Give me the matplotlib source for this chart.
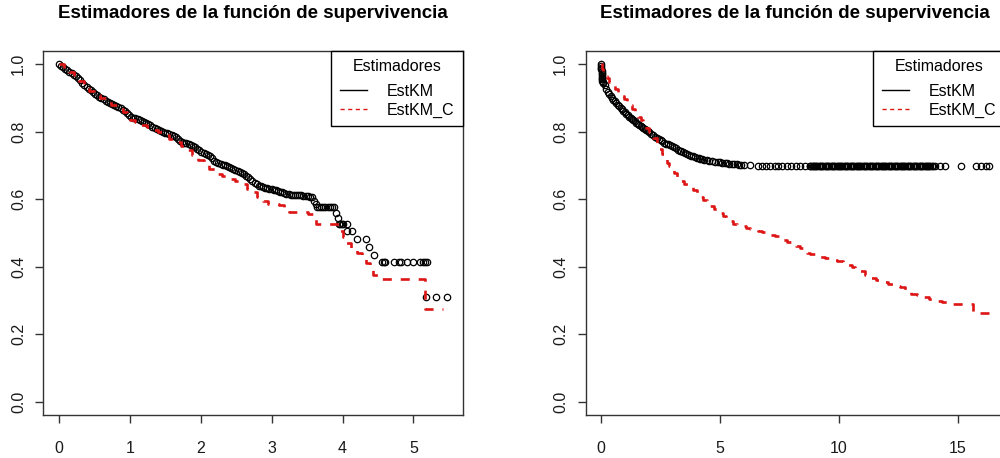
import matplotlib
matplotlib.use("Agg")
import matplotlib.pyplot as plt
from matplotlib.lines import Line2D

plt.rcParams["font.family"] = ["Liberation Sans", "DejaVu Sans"]

titulo = "Estimadores de la función de supervivencia"

# ---- Panel izquierdo: estimador KM (puntos) y KM_C (escalones) ----
t_km1 = [0.00, 0.03, 0.06, 0.09, 0.12, 0.15, 0.18, 0.21, 0.24, 0.27, 0.30, 0.33,
         0.36, 0.39, 0.42, 0.45, 0.48, 0.51, 0.54, 0.57, 0.60, 0.63, 0.66, 0.69,
         0.72, 0.75, 0.78, 0.81, 0.84, 0.87, 0.90, 0.93, 0.96, 0.99, 1.02, 1.05,
         1.08, 1.11, 1.14, 1.17, 1.20, 1.23, 1.26, 1.29, 1.32, 1.35, 1.38, 1.41,
         1.44, 1.47, 1.50, 1.53, 1.56, 1.59, 1.62, 1.65, 1.68, 1.71, 1.74, 1.77,
         1.80, 1.83, 1.86, 1.89, 1.92, 1.95, 1.98, 2.01, 2.04, 2.07, 2.10, 2.13,
         2.16, 2.19, 2.22, 2.25, 2.28, 2.31, 2.34, 2.37, 2.40, 2.43, 2.46, 2.49,
         2.52, 2.55, 2.58, 2.61, 2.64, 2.67, 2.70, 2.73, 2.76, 2.79, 2.82, 2.85,
         2.88, 2.91, 2.94, 2.97, 3.00, 3.03, 3.06, 3.09, 3.12, 3.15, 3.18, 3.21,
         3.24, 3.27, 3.30, 3.33, 3.36, 3.39, 3.42, 3.45, 3.48, 3.51, 3.54, 3.57,
         3.60, 3.62, 3.64, 3.67, 3.70, 3.73, 3.76, 3.79, 3.82, 3.85, 3.88, 3.91,
         3.93, 3.95, 3.97, 3.99, 4.01, 4.06, 4.07, 4.13, 4.20, 4.33, 4.37, 4.45,
         4.55, 4.58, 4.60, 4.73, 4.80, 4.82, 4.91, 4.99, 5.09, 5.13, 5.16, 5.19,
         5.18, 5.32, 5.48]
s_km1 = [1.000, 0.996, 0.991, 0.987, 0.982, 0.978, 0.974, 0.969, 0.964, 0.958,
         0.952, 0.945, 0.938, 0.933, 0.928, 0.923, 0.918, 0.913, 0.908, 0.904,
         0.900, 0.896, 0.892, 0.888, 0.884, 0.881, 0.878, 0.875, 0.872, 0.869,
         0.865, 0.860, 0.855, 0.850, 0.845, 0.842, 0.840, 0.838, 0.834, 0.831,
         0.828, 0.825, 0.822, 0.819, 0.815, 0.812, 0.809, 0.806, 0.803, 0.800,
         0.797, 0.795, 0.793, 0.790, 0.787, 0.783, 0.777, 0.771, 0.769, 0.768,
         0.767, 0.764, 0.762, 0.758, 0.754, 0.749, 0.745, 0.741, 0.738, 0.734,
         0.730, 0.727, 0.722, 0.714, 0.710, 0.706, 0.703, 0.701, 0.700, 0.698,
         0.696, 0.693, 0.690, 0.687, 0.684, 0.681, 0.678, 0.674, 0.670, 0.665,
         0.660, 0.654, 0.649, 0.644, 0.640, 0.638, 0.636, 0.634, 0.632, 0.631,
         0.630, 0.628, 0.627, 0.625, 0.622, 0.620, 0.618, 0.616, 0.614, 0.613,
         0.613, 0.612, 0.612, 0.611, 0.611, 0.610, 0.610, 0.609, 0.608, 0.606,
         0.594, 0.585, 0.577, 0.577, 0.577, 0.577, 0.577, 0.577, 0.577, 0.577,
         0.577, 0.560, 0.543, 0.526, 0.526, 0.526, 0.526, 0.526, 0.505, 0.505,
         0.482, 0.482, 0.459, 0.436, 0.413, 0.413, 0.413, 0.413, 0.413, 0.413,
         0.413, 0.413, 0.413, 0.413, 0.413, 0.413, 0.310, 0.310, 0.310]

t_kmc1 = [0.00, 0.07, 0.14, 0.21, 0.28, 0.35, 0.42, 0.50, 0.58, 0.66, 0.74, 0.82,
          0.90, 0.96, 1.00, 1.08, 1.16, 1.24, 1.32, 1.40, 1.48, 1.56, 1.64, 1.72,
          1.80, 1.88, 1.96, 2.04, 2.12, 2.20, 2.30, 2.40, 2.48, 2.56, 2.65, 2.72,
          2.79, 2.88, 2.95, 3.10, 3.17, 3.25, 3.52, 3.58, 3.62, 3.90, 3.95, 4.00,
          4.05, 4.12, 4.20, 4.27, 4.33, 4.39, 4.43, 4.51, 5.17, 5.42]
s_kmc1 = [1.000, 0.988, 0.976, 0.963, 0.950, 0.930, 0.922, 0.910, 0.900, 0.890,
          0.879, 0.868, 0.858, 0.845, 0.834, 0.828, 0.820, 0.813, 0.806, 0.798,
          0.790, 0.778, 0.770, 0.758, 0.745, 0.730, 0.716, 0.705, 0.690, 0.676,
          0.668, 0.660, 0.655, 0.645, 0.630, 0.620, 0.607, 0.595, 0.587, 0.582,
          0.572, 0.562, 0.555, 0.540, 0.528, 0.528, 0.505, 0.488, 0.470, 0.455,
          0.440, 0.425, 0.410, 0.390, 0.375, 0.363, 0.274, 0.274]

# ---- Panel derecho ----
t_km2 = [0.000, 0.005, 0.010, 0.015, 0.020, 0.025, 0.030, 0.035, 0.040, 0.050,
         0.060, 0.080, 0.10, 0.16, 0.22, 0.28, 0.34, 0.40, 0.46, 0.52, 0.58, 0.64,
         0.70, 0.76, 0.82, 0.88, 0.94, 1.00, 1.06, 1.12, 1.18, 1.24, 1.30, 1.36,
         1.42, 1.48, 1.54, 1.60, 1.66, 1.72, 1.78, 1.84, 1.90, 1.96, 2.02, 2.10,
         2.18, 2.26, 2.34, 2.42, 2.50, 2.58, 2.66, 2.74, 2.82, 2.90, 2.98, 3.06,
         3.14, 3.22, 3.30, 3.38, 3.46, 3.54, 3.62, 3.70, 3.78, 3.86, 3.94, 4.02,
         4.10, 4.18, 4.26, 4.34, 4.44, 4.55, 4.66, 4.78, 4.90, 5.00, 5.10, 5.20,
         5.30, 5.40, 5.50, 5.60, 5.70, 5.80, 5.90, 6.00, 6.25]
s_km2 = [1.000, 0.995, 0.990, 0.985, 0.980, 0.975, 0.970, 0.965, 0.960, 0.955,
         0.950, 0.947, 0.945, 0.937, 0.926, 0.919, 0.913, 0.905, 0.900, 0.895,
         0.890, 0.885, 0.880, 0.875, 0.870, 0.866, 0.861, 0.857, 0.853, 0.849,
         0.845, 0.841, 0.837, 0.834, 0.831, 0.827, 0.824, 0.821, 0.818, 0.815,
         0.811, 0.808, 0.805, 0.801, 0.798, 0.793, 0.789, 0.785, 0.781, 0.777,
         0.774, 0.771, 0.768, 0.765, 0.763, 0.760, 0.757, 0.754, 0.751, 0.747,
         0.744, 0.742, 0.739, 0.737, 0.734, 0.731, 0.729, 0.727, 0.725, 0.723,
         0.722, 0.720, 0.719, 0.717, 0.716, 0.714, 0.713, 0.711, 0.710, 0.709,
         0.708, 0.707, 0.706, 0.705, 0.704, 0.704, 0.703, 0.702, 0.702, 0.701,
         0.700]

# meseta final del KM (todos en el mismo valor)
t_meseta2 = [6.60, 6.75, 6.95, 7.10, 7.30, 7.45, 7.60, 7.80, 8.00, 8.20, 8.35,
             8.56, 8.77, 8.80, 8.85, 8.90, 8.95, 9.00, 9.05, 9.10, 9.15, 9.20,
             9.25, 9.30, 9.35, 9.40, 9.45, 9.50, 9.55, 9.60, 9.65, 9.70, 9.75,
             9.80, 9.85, 9.90, 9.95, 10.00, 10.05, 10.10, 10.15, 10.20, 10.25,
             10.30, 10.35, 10.40, 10.45, 10.50, 10.55, 10.60, 10.65, 10.70, 10.75,
             10.80, 10.85, 10.90, 10.95, 11.00, 11.05, 11.10, 11.15, 11.20, 11.25,
             11.30, 11.35, 11.40, 11.45, 11.50, 11.55, 11.60, 11.65, 11.70, 11.75,
             11.80, 11.85, 11.90, 11.95, 12.00, 12.05, 12.10, 12.15, 12.20, 12.25,
             12.30, 12.35, 12.40, 12.45, 12.50, 12.55, 12.60, 12.65, 12.70, 12.75,
             12.80, 12.85, 12.90, 12.95, 13.00, 13.05, 13.10, 13.15, 13.20, 13.25,
             13.30, 13.35, 13.40, 13.45, 13.50, 13.55, 13.60, 13.65, 13.70, 13.75,
             13.80, 13.85, 13.90, 13.95, 14.02, 14.23, 14.44, 15.14, 15.77, 15.98,
             16.19, 16.33]
s_meseta2 = 0.698

t_kmc2 = [0.00, 0.03, 0.08, 0.15, 0.24, 0.35, 0.47, 0.60, 0.72, 0.85, 0.97, 1.08,
          1.20, 1.32, 1.44, 1.55, 1.67, 1.78, 1.90, 2.00, 2.10, 2.20, 2.34, 2.45,
          2.55, 2.65, 2.76, 2.85, 2.95, 3.06, 3.18, 3.34, 3.50, 3.70, 3.88, 4.02,
          4.15, 4.30, 4.44, 4.60, 4.75, 4.88, 5.00, 5.13, 5.25, 5.40, 5.55, 5.72,
          5.90, 6.08, 6.25, 6.42, 6.60, 6.78, 6.95, 7.12, 7.30, 7.48, 7.65, 7.82,
          8.00, 8.20, 8.35, 8.49, 8.65, 8.80, 9.00, 9.19, 9.40, 9.68, 9.90, 10.17,
          10.40, 10.55, 10.66, 10.85, 11.08, 11.30, 11.57, 11.80, 12.06, 12.30,
          12.55, 12.80, 13.04, 13.30, 13.53, 13.80, 14.09, 14.35, 14.65, 14.95,
          15.21, 15.63, 16.33]
s_kmc2 = [1.000, 0.985, 0.975, 0.966, 0.958, 0.948, 0.938, 0.926, 0.915, 0.905,
          0.898, 0.892, 0.880, 0.868, 0.856, 0.845, 0.835, 0.824, 0.812, 0.800,
          0.790, 0.780, 0.765, 0.750, 0.735, 0.720, 0.706, 0.697, 0.688, 0.677,
          0.666, 0.655, 0.645, 0.636, 0.627, 0.617, 0.607, 0.597, 0.587, 0.579,
          0.572, 0.565, 0.558, 0.551, 0.543, 0.535, 0.528, 0.524, 0.520, 0.516,
          0.513, 0.509, 0.506, 0.502, 0.499, 0.494, 0.490, 0.484, 0.479, 0.473,
          0.467, 0.460, 0.454, 0.449, 0.442, 0.437, 0.432, 0.429, 0.425, 0.420,
          0.416, 0.410, 0.405, 0.400, 0.395, 0.386, 0.375, 0.367, 0.360, 0.354,
          0.349, 0.344, 0.339, 0.329, 0.319, 0.315, 0.311, 0.305, 0.299, 0.295,
          0.291, 0.290, 0.289, 0.262, 0.262]

y_ticks = [0.0, 0.2, 0.4, 0.6, 0.8, 1.0]
x_ticks1 = [0, 1, 2, 3, 4, 5]
x_ticks2 = [0, 5, 10, 15]

RED = "#DD1515"
AX_COL = "#333333"

fig = plt.figure(figsize=(10, 4.58), dpi=100)
ax1 = fig.add_axes([0.0433, 0.0934, 0.4197, 0.7959])
ax2 = fig.add_axes([0.5855, 0.0934, 0.4195, 0.7959])


def puntos(ax, t, s):
    ax.plot(t, s, linestyle="none", marker="o", ms=4.6, mfc="none",
            mec="black", mew=0.9)


def panel(ax, tc, sc, xt, xmax):
    ax.plot(tc, sc, drawstyle="steps-post", color=RED, lw=1.9,
            dashes=(3.4, 3.4))
    ax.set_xlim(-0.04 * xmax, 1.04 * xmax)
    ax.set_ylim(-0.04, 1.04)
    ax.set_xticks(xt)
    ax.set_xticklabels([str(v) for v in xt])
    ax.set_yticks(y_ticks)
    ax.set_yticklabels([f"{v:.1f}" for v in y_ticks], rotation=90,
                       va="center")
    ax.tick_params(axis="both", direction="out", length=5.5, width=1,
                   color=AX_COL, labelsize=11.5, labelcolor="#1a1a1a")
    ax.tick_params(axis="x", pad=13)
    ax.tick_params(axis="y", pad=7)
    for sp in ax.spines.values():
        sp.set_color(AX_COL)
        sp.set_linewidth(1)
    handles = [Line2D([], [], color="black", lw=1),
               Line2D([], [], color=RED, lw=1, dashes=(3, 2.5))]
    leg = ax.legend(handles, ["EstKM", "EstKM_C"], title="Estimadores",
                    loc="upper right", bbox_to_anchor=(1, 1),
                    borderaxespad=0, fancybox=False, framealpha=1,
                    edgecolor="black", fontsize=11.5, title_fontsize=11.5,
                    handlelength=1.7, handletextpad=1.2, borderpad=0.55,
                    labelspacing=0.25)
    leg.get_frame().set_linewidth(1)
    # algo más de aire entre el título de la leyenda y las entradas
    leg._legend_box.sep = 6.5


puntos(ax1, t_km1, s_km1)
panel(ax1, t_kmc1, s_kmc1, x_ticks1, max(t_km1))

puntos(ax2, t_km2, s_km2)
puntos(ax2, t_meseta2, [s_meseta2] * len(t_meseta2))
panel(ax2, t_kmc2, s_kmc2, x_ticks2, max(t_meseta2))

fig.text(0.253, 1 - 14 / 458, titulo, ha="center", va="center",
         fontsize=13.5, fontweight="bold")
fig.text(0.795, 1 - 14 / 458, titulo, ha="center", va="center",
         fontsize=13.5, fontweight="bold")

fig.savefig("out.png", dpi=100)
